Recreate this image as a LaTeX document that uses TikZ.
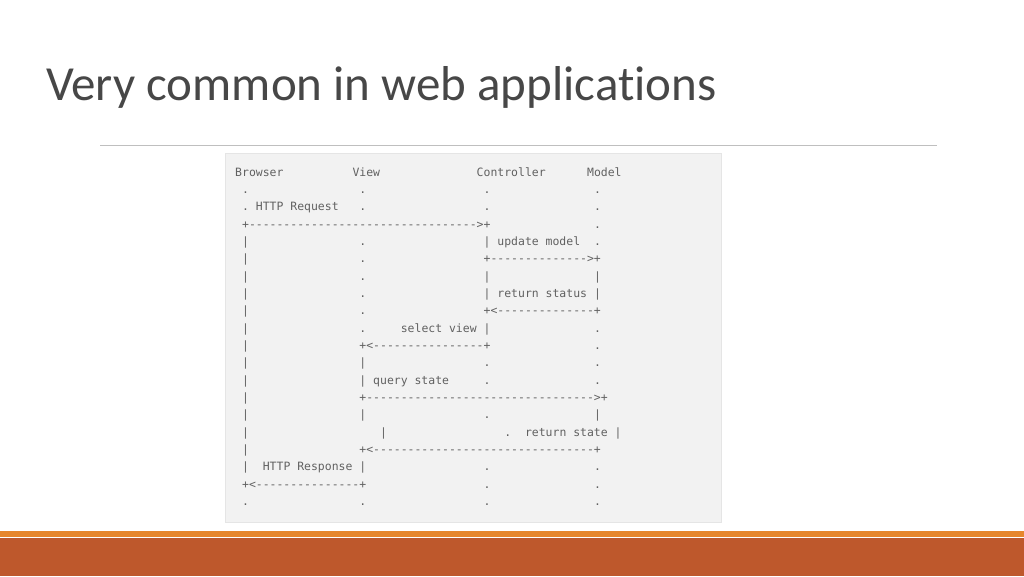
\documentclass[tikz,border=0pt]{standalone}
\usepackage{fontspec}
\setmainfont{Carlito}[Ligatures={NoCommon}]
\setmonofont{DejaVu Sans Mono}
\definecolor{thinbar}{RGB}{230,134,44}
\definecolor{thickbar}{RGB}{190,88,44}
\begin{document}
\begin{tikzpicture}[x=1pt,y=-1pt,
  tt/.style={font=\ttfamily\fontsize{11.46}{12}\selectfont,text=black!62,anchor=base west,inner sep=0pt}]
\useasboundingbox (0,0) rectangle (1024,576);
\fill[white] (0,0) rectangle (1024,576);
\node[anchor=base west,inner sep=0pt,text=black!72,font=\fontsize{49}{56}\selectfont] (title) at (46,100) {Very common in web applications};
\draw[black!25,line width=1pt] (100,145.5) -- (937,145.5);
\fill[black!5,draw=black!10] (225,153) rectangle (721,522);
\newcommand\tk[3]{\node[tt] at ({235+6.9*#1},{176+17.35*#2}) {#3};}
\tk{0}{0}{Browser}\tk{17}{0}{View}\tk{35}{0}{Controller}\tk{51}{0}{Model}
\tk{1}{1}{.}\tk{18}{1}{.}\tk{36}{1}{.}\tk{52}{1}{.}
\tk{1}{2}{.}\tk{3}{2}{HTTP Request}\tk{18}{2}{.}\tk{36}{2}{.}\tk{52}{2}{.}
\tk{1}{3}{+--------------------------------->+}\tk{52}{3}{.}
\tk{1}{4}{|}\tk{18}{4}{.}\tk{36}{4}{|}\tk{38}{4}{update model}\tk{52}{4}{.}
\tk{1}{5}{|}\tk{18}{5}{.}\tk{36}{5}{+-------------->+}
\tk{1}{6}{|}\tk{18}{6}{.}\tk{36}{6}{|}\tk{52}{6}{|}
\tk{1}{7}{|}\tk{18}{7}{.}\tk{36}{7}{|}\tk{38}{7}{return status}\tk{52}{7}{|}
\tk{1}{8}{|}\tk{18}{8}{.}\tk{36}{8}{+<--------------+}
\tk{1}{9}{|}\tk{18}{9}{.}\tk{24}{9}{select view}\tk{36}{9}{|}\tk{52}{9}{.}
\tk{1}{10}{|}\tk{18}{10}{+<----------------+}\tk{52}{10}{.}
\tk{1}{11}{|}\tk{18}{11}{|}\tk{36}{11}{.}\tk{52}{11}{.}
\tk{1}{12}{|}\tk{18}{12}{|}\tk{20}{12}{query state}\tk{36}{12}{.}\tk{52}{12}{.}
\tk{1}{13}{|}\tk{18}{13}{+--------------------------------->+}
\tk{1}{14}{|}\tk{18}{14}{|}\tk{36}{14}{.}\tk{52}{14}{|}
\tk{1}{15}{|}\tk{21}{15}{|}\tk{39}{15}{.}\tk{42}{15}{return state}\tk{55}{15}{|}
\tk{1}{16}{|}\tk{18}{16}{+<--------------------------------+}
\tk{1}{17}{|}\tk{4}{17}{HTTP Response}\tk{18}{17}{|}\tk{36}{17}{.}\tk{52}{17}{.}
\tk{1}{18}{+<---------------+}\tk{36}{18}{.}\tk{52}{18}{.}
\tk{1}{19}{.}\tk{18}{19}{.}\tk{36}{19}{.}\tk{52}{19}{.}
\fill[thinbar] (0,531) rectangle (1024,536.5);
\fill[thickbar] (0,538) rectangle (1024,576);
\end{tikzpicture}
\end{document}
